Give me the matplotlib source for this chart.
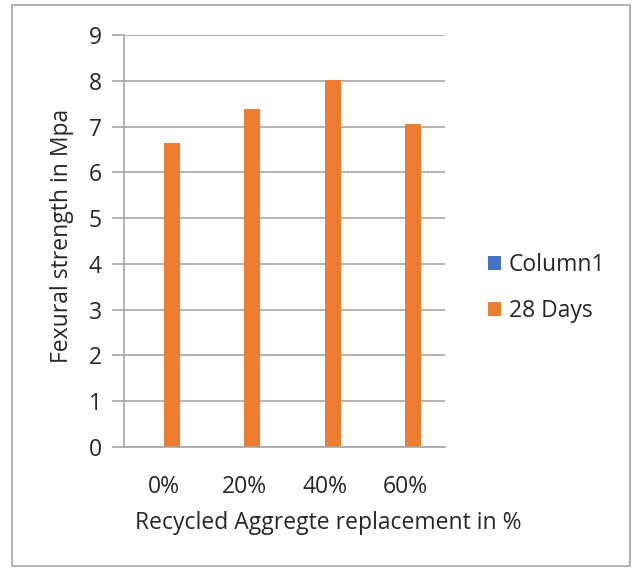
import numpy as np
import matplotlib
matplotlib.use("Agg")
import matplotlib.pyplot as plt
from matplotlib.patches import Rectangle

# --- datos ---
categories = ["0%", "20%", "40%", "60%"]
column1 = [0, 0, 0, 0]
days28 = [6.63, 7.39, 8.01, 7.05]
y_ticks = [0, 1, 2, 3, 4, 5, 6, 7, 8, 9]

plt.rcParams["font.family"] = ["Open Sans", "DejaVu Sans"]

W, H = 634, 569
fig = plt.figure(figsize=(W / 100, H / 100), dpi=100)

# marco del grafico
fig.patches.append(Rectangle((12 / W, 1 - 566 / H), 618 / W, 561 / H,
                             transform=fig.transFigure, fill=False,
                             edgecolor="#a6a6a6", linewidth=1.2))

ax_l, ax_t, ax_w, ax_h = 124, 447, 321, 412
ax = fig.add_axes([ax_l / W, 1 - ax_t / H, ax_w / W, ax_h / H])

x = np.arange(len(categories))
width = 0.2
ax.bar(x - width / 2, column1, width, color="#4472C4", label="Column1")
ax.bar(x + width / 2, days28, width, color="#ED7D31", label="28 Days")

ax.set_xlim(-0.5, len(categories) - 0.5)
ax.set_ylim(0, 9)
ax.set_yticks(y_ticks)
ax.set_xticks(x)
ax.set_xticklabels(categories)

ax.yaxis.grid(True, color="#a6a6a6", linewidth=1.2)
ax.set_axisbelow(True)
for s in ["top", "right"]:
    ax.spines[s].set_visible(False)
for s in ["left", "bottom"]:
    ax.spines[s].set_color("#a6a6a6")
    ax.spines[s].set_linewidth(1.2)

ax.tick_params(axis="y", length=9, width=1.2, color="#a6a6a6",
               labelsize=16.5, labelcolor="#262626", pad=7)
ax.tick_params(axis="x", length=0, labelsize=16.5, labelcolor="#262626", pad=20)

ax.set_ylabel("Fexural strength in Mpa", fontsize=16.5, color="#262626")
ax.yaxis.label.set_va("center")
ax.yaxis.set_label_coords((62 - ax_l) / ax_w, (ax_t - 236) / ax_h)

ax.set_xlabel("Recycled Aggregte replacement in %", fontsize=16.5, color="#262626")
ax.xaxis.label.set_va("center")
ax.xaxis.set_label_coords((328 - ax_l) / ax_w, (ax_t - 523) / ax_h)

ax.legend(loc="center left", bbox_to_anchor=((488 - ax_l) / ax_w, (ax_t - 288) / ax_h),
          frameon=False, borderaxespad=0, borderpad=0,
          fontsize=16.5, handlelength=0.55, handleheight=0.55, handletextpad=0.35,
          labelspacing=0.95, labelcolor="#262626")

fig.savefig("out.png", dpi=100)
